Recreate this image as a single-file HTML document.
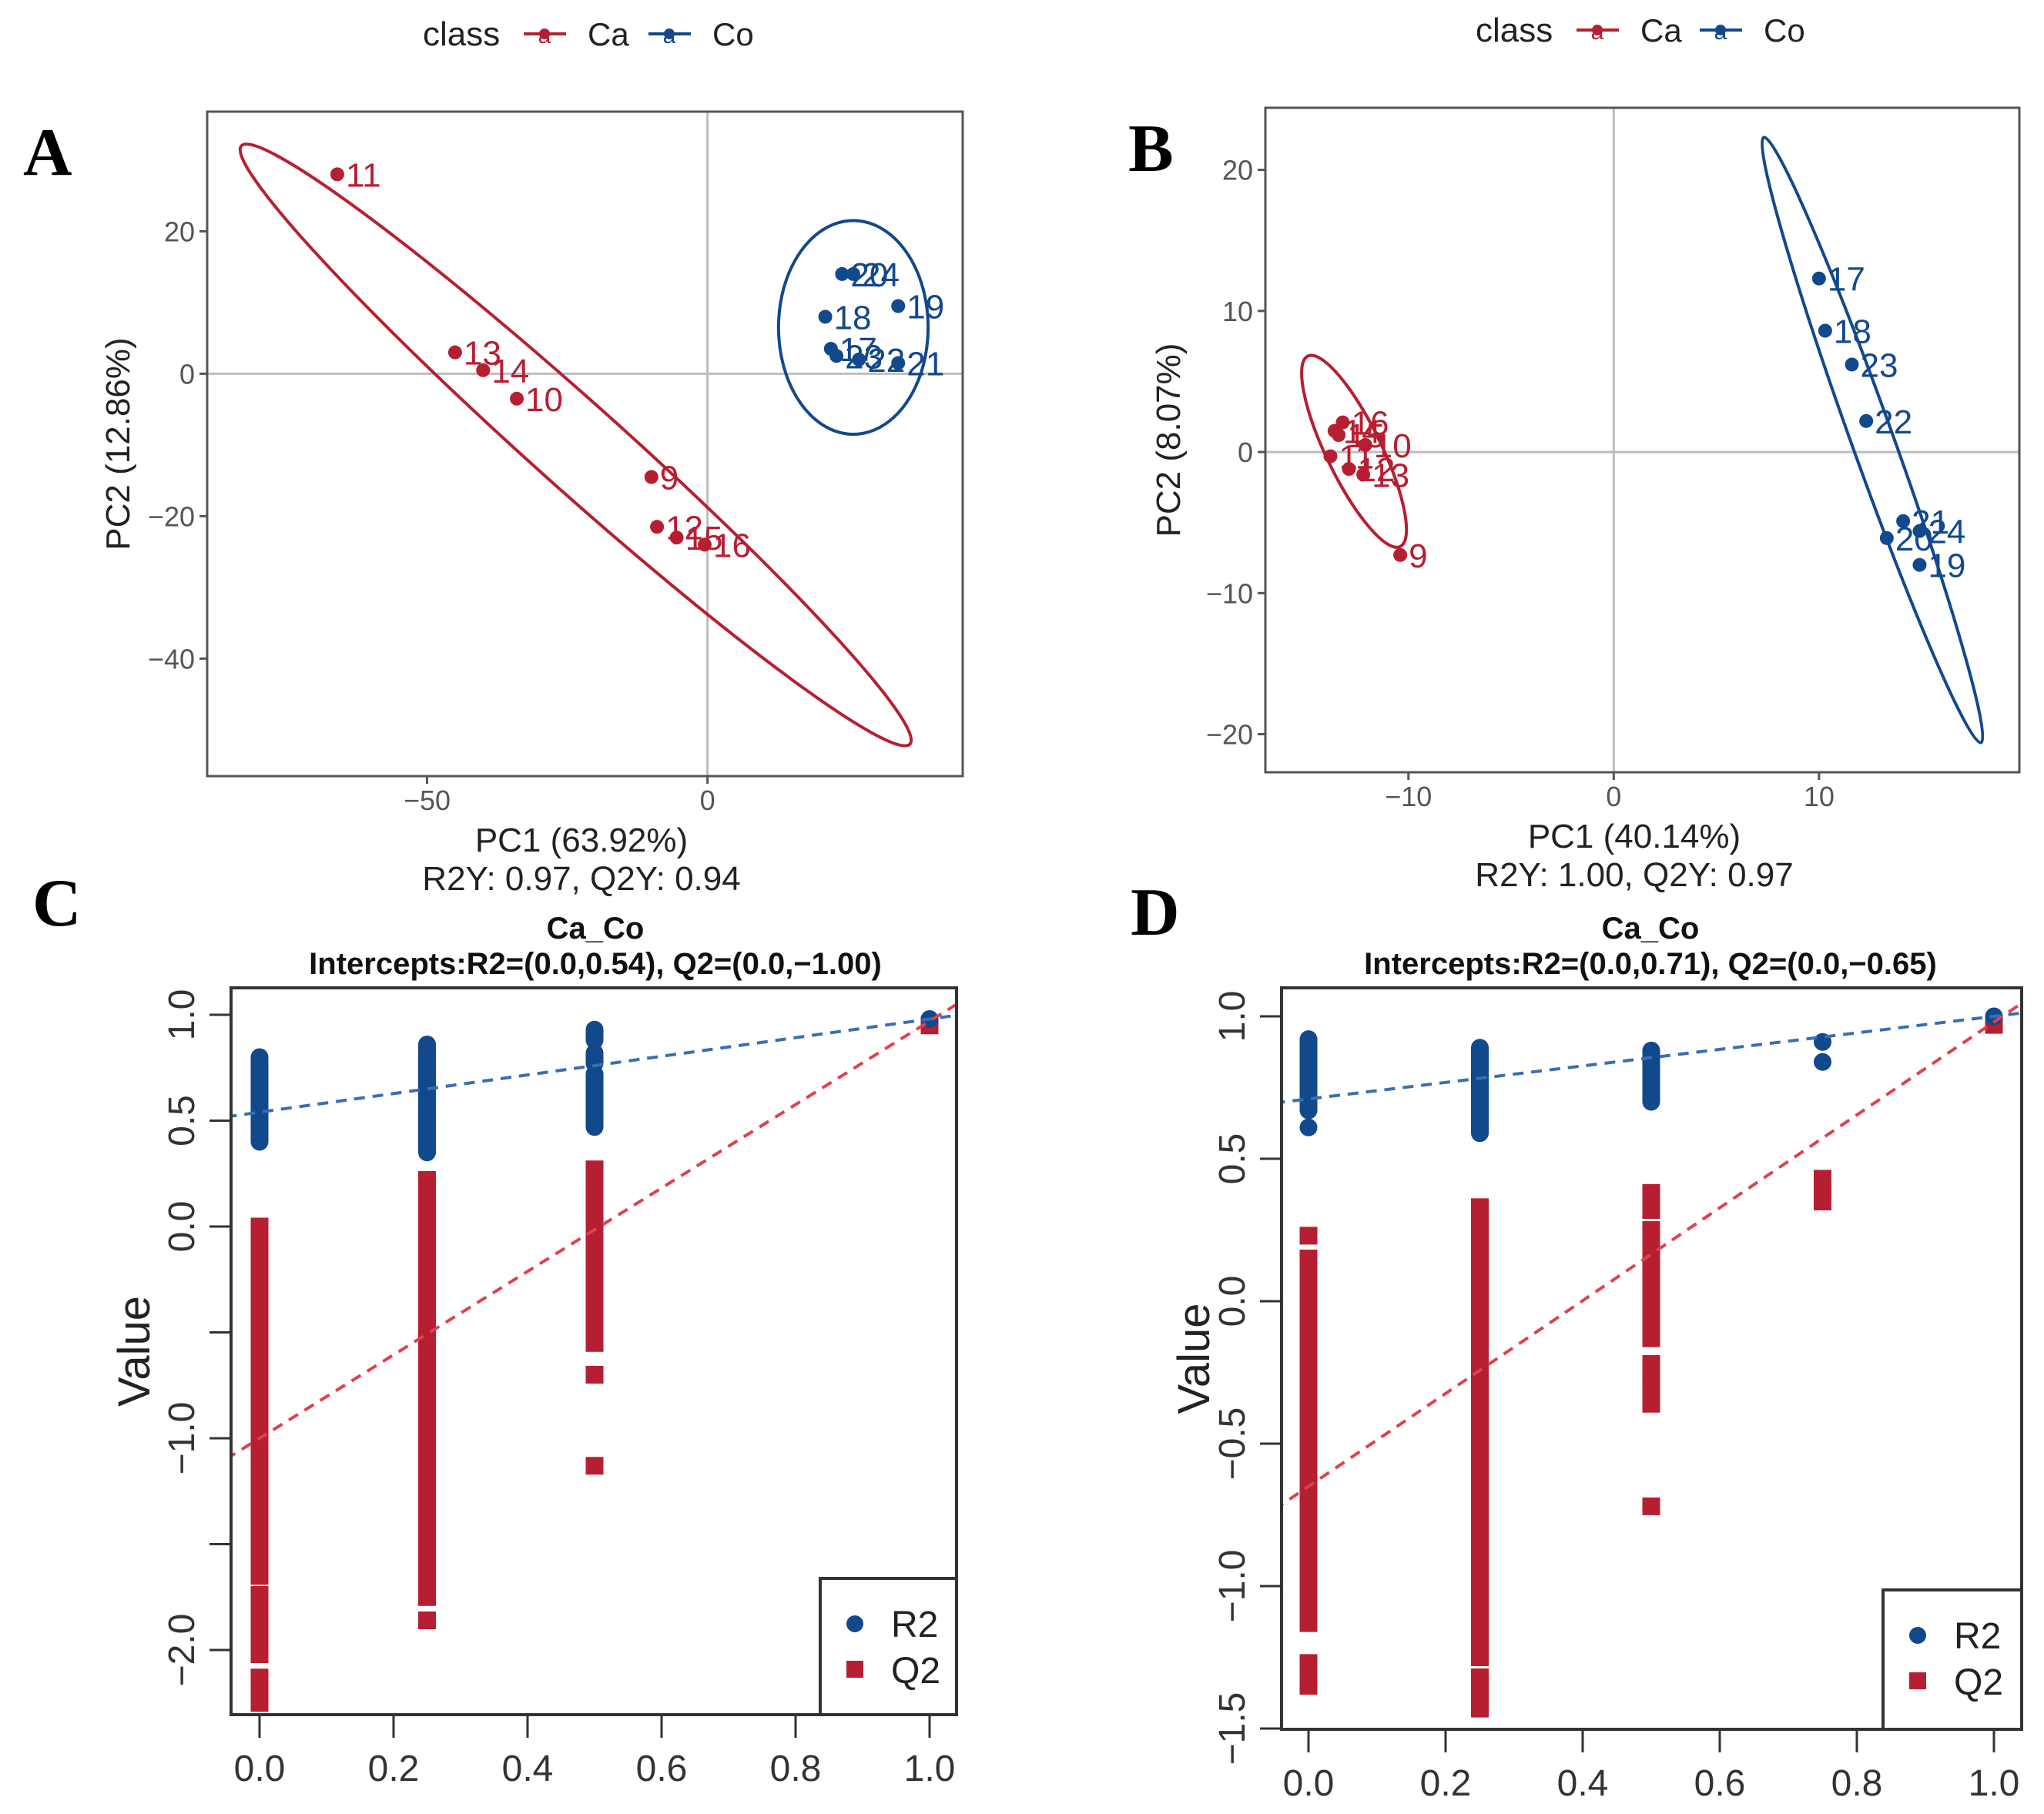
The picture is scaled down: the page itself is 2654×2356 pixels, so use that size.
<!DOCTYPE html>
<html><head><meta charset="utf-8"><style>
html,body{margin:0;padding:0;background:#fff}
svg{display:block;font-family:"Liberation Sans",sans-serif}
</style></head><body>
<svg id="fig" xmlns="http://www.w3.org/2000/svg" width="2654" height="2356" viewBox="0 0 2654 2356"></svg>
<script>
// ---- Panel A data ----
const caLabelsA = ["11","13","14","10","9","12","15","16"];
const caPC1A = [-66,-45,-40,-34,-10,-9,-5.5,-0.5];
const caPC2A = [28,3,0.5,-3.5,-14.5,-21.5,-23,-24];
const coLabelsA = ["20","24","18","19","17","23","22","21"];
const coPC1A = [24,26,21,34,22,23,27,34];
const coPC2A = [14,14,8,9.5,3.5,2.5,2,1.5];
const xTicksA = [-50,0];
const yTicksA = [20,0,-20,-40];
// ellipses: [centerX, centerY, majorEndX, majorEndY, minorRatio]
const caEllA = [-23.5,-10,36.1,-52,0.097];
const coEllA = [26,6.5,26,21.5,0.70];
// ---- Panel B data ----
const caLabelsB = ["16","14","15","10","11","12","13","9"];
const caPC1B = [-13.2,-13.6,-13.4,-12.1,-13.8,-12.9,-12.2,-10.4];
const caPC2B = [2.1,1.5,1.2,0.5,-0.3,-1.2,-1.6,-7.3];
const coLabelsB = ["17","18","23","22","21","24","20","19"];
const coPC1B = [10,10.3,11.6,12.3,14.1,14.9,13.3,14.9];
const coPC2B = [12.3,8.6,6.2,2.2,-4.9,-5.6,-6.1,-8];
const xTicksB = [-10,0,10];
const yTicksB = [20,10,0,-10,-20];
const caEllB = [-12.65,0.05,-14.9,6.8,0.26];
const coEllB = [12.6,0.85,7.31,22.3,0.065];
// ---- Panel C data ----
const r2PointsC = [[1,0.98]];
const r2RunsC = [[0,0.80,0.40],[0.25,0.86,0.35],[0.5,0.93,0.88],[0.5,0.82,0.77],[0.5,0.72,0.47]];
const q2PointsC = [[0.5,-0.70],[0.5,-1.13],[1,0.95],[0.25,-1.86]];
const q2RunsC = [[0,0.0,-1.24],[0,-1.31,-1.65],[0,-1.74,-2.02],[0,-2.13,-2.25],[0.25,0.22,-1.75],[0.5,0.27,-0.55]];
const r2LineC = [0.54,0.98];
const q2LineC = [-1.00,0.97];
const yTicksC = [1.0,0.5,0.0,-0.5,-1.0,-1.5,-2.0];
const yTickLabelsC = ["1.0","0.5","0.0","","−1.0","","−2.0"];
const xTicksR = [0,0.2,0.4,0.6,0.8,1.0];
const xTickLabelsR = ["0.0","0.2","0.4","0.6","0.8","1.0"];
// ---- Panel D data ----
const r2PointsD = [[0,0.61],[0.75,0.91],[0.75,0.84],[1,1.0]];
const r2RunsD = [[0,0.92,0.67],[0.25,0.89,0.59],[0.5,0.88,0.70]];
const q2PointsD = [[0,0.23],[0.5,-0.72],[1,0.97]];
const q2RunsD = [[0,0.15,-1.13],[0,-1.27,-1.35],[0.25,0.33,-0.95],[0.25,-1.0,-1.25],[0.25,-1.32,-1.43],[0.5,0.38,0.32],[0.5,0.25,-0.13],[0.5,-0.22,-0.28],[0.5,-0.31,-0.36],[0.75,0.43,0.35]];
const r2LineD = [0.71,1.0];
const q2LineD = [-0.65,0.98];
const yTicksD = [1.0,0.5,0.0,-0.5,-1.0,-1.5];
const yTickLabelsD = ["1.0","0.5","0.0","−0.5","−1.0","−1.5"];

const RED="#b61f32", BLUE="#12488c", NS="http://www.w3.org/2000/svg";
const svg=document.getElementById('fig');
function el(tag,attrs,parent,txt){const e=document.createElementNS(NS,tag);for(const k in attrs)e.setAttribute(k,attrs[k]);if(txt!==undefined)e.textContent=txt;(parent||svg).appendChild(e);return e;}
function grp(name){const g=el('g',{});return g;}

function panelLetter(t,x,y){const e=el('text',{x:x,y:y,'font-family':'"Liberation Serif",serif','font-weight':'bold','font-size':88,fill:'#000'},svg,t);

}

function pcaLegend(g,o){
 const y=o.y;
 el('text',{x:o.cx,y:y+15,'font-size':44,fill:'#222'},g,'class');
 [[o.r,RED,'Ca'],[o.b,BLUE,'Co']].forEach(([x,c,t])=>{
  const k=grp('legend-key-'+t.toLowerCase());g.appendChild(k);
  el('line',{x1:x,y1:y,x2:x+55,y2:y,stroke:c,'stroke-width':4},k);
  el('circle',{cx:x+27,cy:y,r:7,fill:c},k);
  el('text',{x:x+27,y:y+12,'font-size':30,fill:c,'text-anchor':'middle'},k,'a');
  el('text',{x:x+83,y:y+15,'font-size':42,fill:'#222'},k,t);
 });
}

function pca(name,box,dom,d){
 const g=grp(name);
 const X=v=>box.l+(v-dom.x0)/(dom.x1-dom.x0)*(box.r-box.l);
 const Y=v=>box.b-(v-dom.y0)/(dom.y1-dom.y0)*(box.b-box.t);
 el('line',{x1:X(0),x2:X(0),y1:box.t,y2:box.b,stroke:'#bdbdbd','stroke-width':3},g);
 el('line',{y1:Y(0),y2:Y(0),x1:box.l,x2:box.r,stroke:'#bdbdbd','stroke-width':3},g);
 d.xt.forEach(v=>{el('line',{x1:X(v),x2:X(v),y1:box.b,y2:box.b+10,stroke:'#555','stroke-width':3},g);
  el('text',{x:X(v),y:box.b+44,'font-size':36,fill:'#555','text-anchor':'middle'},g,v<0?'−'+(-v):''+v);});
 d.yt.forEach(v=>{el('line',{x1:box.l-10,x2:box.l,y1:Y(v),y2:Y(v),stroke:'#555','stroke-width':3},g);
  el('text',{x:box.l-16,y:Y(v)+13,'font-size':36,fill:'#555','text-anchor':'end'},g,v<0?'−'+(-v):''+v);});
 function ell(e,c,nm){const cx=X(e[0]),cy=Y(e[1]),ex=X(e[2]),ey=Y(e[3]);const a=Math.hypot(ex-cx,ey-cy);const ang=Math.atan2(ey-cy,ex-cx)*180/Math.PI;
  const q=el('ellipse',{cx:cx,cy:cy,rx:a,ry:a*e[4],fill:'none',stroke:c,'stroke-width':4,transform:`rotate(${ang} ${cx} ${cy})`},g);
  
  }
 ell(d.caE,RED,'ellipse-ca');ell(d.coE,BLUE,'ellipse-co');
 [[d.caX,d.caY,d.caL,RED,'ca'],[d.coX,d.coY,d.coL,BLUE,'co']].forEach(([xs,ys,ls,c,k])=>{
  xs.forEach((v,i)=>{const p=el('circle',{cx:X(v),cy:Y(ys[i]),r:9,fill:c},g);
   
   
   el('text',{x:X(v)+11,y:Y(ys[i])+16,'font-size':44,fill:c},g,ls[i]);});
 });
 el('rect',{x:box.l,y:box.t,width:box.r-box.l,height:box.b-box.t,fill:'none',stroke:'#555','stroke-width':3},g);
 el('text',{x:d.tx,y:box.b+98,'font-size':44,fill:'#222','text-anchor':'middle'},g,d.xl);
 el('text',{x:d.tx,y:box.b+148,'font-size':44,fill:'#222','text-anchor':'middle'},g,d.r2);
 const yc=(box.t+box.b)/2;
 el('text',{x:d.yx,y:yc,'font-size':44,fill:'#222','text-anchor':'middle',transform:`rotate(-90 ${d.yx} ${yc})`},g,d.yl);
}

function perm(name,box,dom,d){
 const g=grp(name);
 const X=v=>box.x0px+v*box.ux;
 const Y=v=>box.y0px-v*box.uy;
 el('text',{x:d.tx,y:box.t-64,'font-size':40,'font-weight':'bold',fill:'#111','text-anchor':'middle'},g,'Ca_Co');
 el('text',{x:d.tx,y:box.t-18,'font-size':40,'font-weight':'bold',fill:'#111','text-anchor':'middle'},g,d.title);
 const cp=el('clipPath',{id:'clip'+name},g);el('rect',{x:box.l,y:box.t,width:box.r-box.l,height:box.b-box.t},cp);
 const inner=el('g',{'clip-path':`url(#clip${name})`},g);
 const W=23;
 d.q2r.forEach(r=>{el('rect',{x:X(r[0])-W/2,y:Y(r[1])-W/2,width:W,height:Y(r[2])-Y(r[1])+W,fill:RED},inner);});
 d.q2p.forEach(p=>{el('rect',{x:X(p[0])-W/2,y:Y(p[1])-W/2,width:W,height:W,fill:RED},inner);});
 d.r2r.forEach(r=>{el('rect',{x:X(r[0])-W/2,y:Y(r[1])-W/2,width:W,height:Y(r[2])-Y(r[1])+W,rx:W/2,fill:BLUE},inner);});
 d.r2p.forEach(p=>{el('circle',{cx:X(p[0]),cy:Y(p[1]),r:W/2,fill:BLUE},inner);});
 const xa=dom.x0,xb=dom.x1;
 [[d.r2l,'#3a6db5','r2-regression-line'],[d.q2l,'#e0404e','q2-regression-line']].forEach(([L,c,nm])=>{
  const f=v=>L[0]+(L[1]-L[0])*v;
  const ln=el('line',{x1:X(xa),y1:Y(f(xa)),x2:X(xb),y2:Y(f(xb)),stroke:c,'stroke-width':4,'stroke-dasharray':'14 10'},inner);
  
  
 });
 d.yt.forEach((v,i)=>{el('line',{x1:box.l-28,x2:box.l,y1:Y(v),y2:Y(v),stroke:'#333','stroke-width':3},g);
  if(d.ytl[i]){const lx=box.l-48;el('text',{x:lx,y:Y(v),'font-size':48,fill:'#333','text-anchor':'middle',transform:`rotate(-90 ${lx} ${Y(v)})`},g,d.ytl[i]);}});
 xTicksR.forEach((v,i)=>{el('line',{x1:X(v),x2:X(v),y1:box.b,y2:box.b+30,stroke:'#333','stroke-width':3},g);
  el('text',{x:X(v),y:box.b+86,'font-size':48,fill:'#333','text-anchor':'middle'},g,xTickLabelsR[i]);});
 el('rect',{x:box.l,y:box.t,width:box.r-box.l,height:box.b-box.t,fill:'none',stroke:'#333','stroke-width':4},g);
 const yc=(box.t+box.b)/2;
 el('text',{x:d.yx,y:yc,'font-size':58,fill:'#222','text-anchor':'middle',transform:`rotate(-90 ${d.yx} ${yc})`},g,'Value');
 const lg=grp('legend');g.appendChild(lg);
 const L=d.leg;
 el('rect',{x:L.l,y:L.t,width:box.r-L.l,height:box.b-L.t,fill:'#fff',stroke:'#333','stroke-width':4},lg);
 el('circle',{cx:L.l+45,cy:L.t+59,r:11,fill:BLUE},lg);
 el('text',{x:L.l+92,y:L.t+76,'font-size':48,fill:'#222'},lg,'R2');
 el('rect',{x:L.l+34,y:L.t+107,width:22,height:22,fill:RED},lg);
 el('text',{x:L.l+92,y:L.t+136,'font-size':48,fill:'#222'},lg,'Q2');
}

// Legends top
const la=grp('legend-a');pcaLegend(la,{y:44,cx:549,r:680,b:842});
const lb=grp('legend-b');pcaLegend(lb,{y:39,cx:1916,r:2047,b:2207});

panelLetter('A',30,227);panelLetter('B',1465,222);panelLetter('C',42,1202);panelLetter('D',1468,1214);

pca('panel-a-pca',{l:269,r:1250,t:145,b:1008},{x0:-89.2,x1:45.5,y0:-56.5,y1:36.8},
 {xt:xTicksA,yt:yTicksA,caX:caPC1A,caY:caPC2A,caL:caLabelsA,coX:coPC1A,coY:coPC2A,coL:coLabelsA,caE:caEllA,coE:coEllA,
  xl:'PC1 (63.92%)',r2:'R2Y: 0.97, Q2Y: 0.94',yl:'PC2 (12.86%)',tx:755,yx:168});
pca('panel-b-pca',{l:1643,r:2622,t:140,b:1003},{x0:-16.97,x1:19.76,y0:-22.7,y1:24.4},
 {xt:xTicksB,yt:yTicksB,caX:caPC1B,caY:caPC2B,caL:caLabelsB,coX:coPC1B,coY:coPC2B,coL:coLabelsB,caE:caEllB,coE:coEllB,
  xl:'PC1 (40.14%)',r2:'R2Y: 1.00, Q2Y: 0.97',yl:'PC2 (8.07%)',tx:2122,yx:1532});

perm('panel-c-permutation',{l:300,r:1242,t:1283,b:2227,x0px:337,ux:870,y0px:1593,uy:275},{x0:-0.05,x1:1.05},
 {r2p:r2PointsC,r2r:r2RunsC,q2p:q2PointsC,q2r:q2RunsC,r2l:r2LineC,q2l:q2LineC,yt:yTicksC,ytl:yTickLabelsC,
  title:'Intercepts:R2=(0.0,0.54), Q2=(0.0,−1.00)',tx:773,yx:194,leg:{l:1065,t:2050}});
perm('panel-d-permutation',{l:1664,r:2625,t:1283,b:2246,x0px:1699,ux:890,y0px:1690,uy:370},{x0:-0.05,x1:1.05},
 {r2p:r2PointsD,r2r:r2RunsD,q2p:q2PointsD,q2r:q2RunsD,r2l:r2LineD,q2l:q2LineD,yt:yTicksD,ytl:yTickLabelsD,
  title:'Intercepts:R2=(0.0,0.71), Q2=(0.0,−0.65)',tx:2143,yx:1570,leg:{l:2445,t:2065}});
</script>
</body></html>
